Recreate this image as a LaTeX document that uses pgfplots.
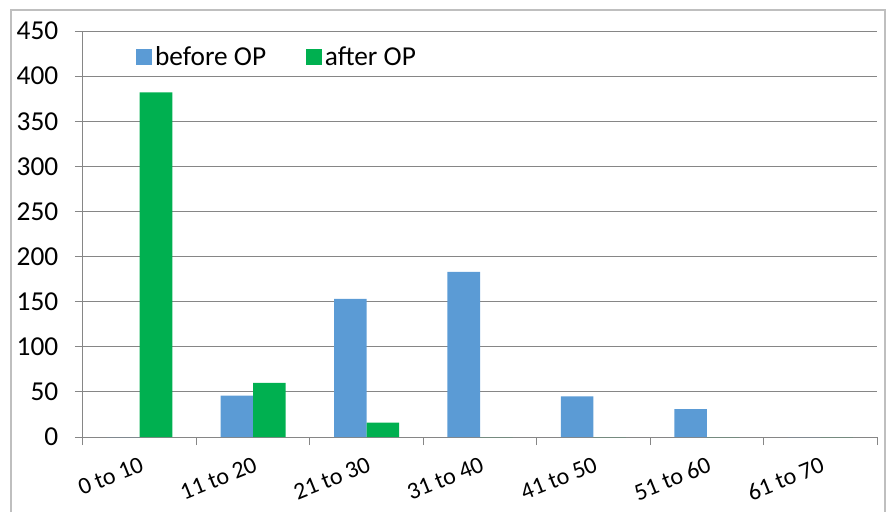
\documentclass[border=0pt]{standalone}
\usepackage{fontspec}
\setmainfont{Carlito}
\usepackage{pgfplots}
\pgfplotsset{compat=1.18}
\definecolor{barblue}{HTML}{5B9BD5}
\definecolor{bargreen}{HTML}{00B050}
\definecolor{gridgray}{HTML}{868686}
\definecolor{framegray}{HTML}{BFBFBF}

\begin{document}
\begin{tikzpicture}
\begin{axis}[
    scale only axis,
    width=595.5pt, height=304.5pt,
    ybar=0pt, bar width=0.287,
    xmin=-0.5, xmax=6.5,
    ymin=0, ymax=450,
    ytick={0,50,...,450},
    xtick={-0.5,0.5,...,6.5},
    x tick label as interval,
    xticklabels={0 to 10, 11 to 20, 21 to 30, 31 to 40, 41 to 50, 51 to 60, 61 to 70},
    axis x line*=bottom, axis y line*=left,
    axis line style={gridgray, line width=0.75pt, -},
    ymajorgrids,
    grid style={gridgray, line width=0.75pt},
    tick style={gridgray, line width=0.75pt},
    tick align=outside,
    major tick length=6pt,
    yticklabel style={font=\fontsize{20.5}{24}\selectfont, xshift=-9pt},
    xticklabel style={font=\fontsize{18}{21}\selectfont, rotate=22, anchor=north east, xshift=0pt, yshift=-4pt},
    /pgf/number format/assume math mode=true,
    legend style={at={(0.067,0.969)}, anchor=north west, draw=none, fill=none,
        inner sep=0pt, font=\fontsize{20.5}{24}\selectfont,
        /tikz/every even column/.append style={column sep=28pt}},
    legend columns=2,
    legend image code/.code={\fill[#1] (-4pt,-6pt) rectangle (8pt,6pt);},
]
\addplot[fill=barblue, draw=none] coordinates {(0,0) (1,46) (2,153) (3,183) (4,45) (5,31) (6,0)};
\addplot[fill=bargreen, draw=none] coordinates {(0,382) (1,60) (2,16) (3,0) (4,0) (5,0) (6,0)};
\legend{before OP, after OP}
\end{axis}
\draw[framegray, line width=1pt] (-54pt,-56.25pt) -- (-54pt,320.25pt) -- (601.5pt,320.25pt) -- (601.5pt,-56.25pt);
\pgfresetboundingbox
\path[use as bounding box] (-62.25pt,-56.25pt) rectangle (603pt,327.75pt);
\end{tikzpicture}
\end{document}
